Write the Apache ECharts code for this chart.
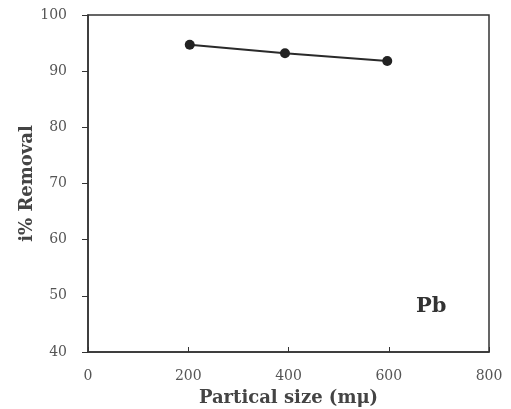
<!DOCTYPE html>
<html><head><meta charset="utf-8">
<script src="https://cdn.jsdelivr.net/npm/echarts@6/dist/echarts.min.js"></script>
<style>html,body{margin:0;padding:0;background:#fff}#c{width:511px;height:409px}</style>
</head><body><div id="c"></div>
<script>
const particleSize = [203, 393, 597];
const removal = [94.7, 93.2, 91.8];
const xTicks = [0, 200, 400, 600, 800];
const yTicks = [40, 50, 60, 70, 80, 90, 100];
const xTitle = 'Partical size (mμ)';
const yTitle = 'i% Removal';
const seriesLabel = 'Pb';

const chart = echarts.init(document.getElementById('c'));
const serif = '"DejaVu Serif","Liberation Serif",serif';
chart.setOption({
  animation: false,
  grid: {left: 88, right: 22, top: 15, bottom: 57, show: true, borderColor: '#333', borderWidth: 1.5, backgroundColor: '#fff', outerBoundsMode: 'none', containLabel: false},
  xAxis: {
    type: 'value', min: xTicks[0], max: xTicks[xTicks.length-1], interval: 200,
    axisLine: {lineStyle: {color: '#333', width: 1.5}},
    axisTick: {inside: true, length: 5, lineStyle: {color: '#333'}},
    splitLine: {show: false},
    axisLabel: {color: '#555', fontFamily: serif, fontSize: 14, margin: 17},
    name: xTitle, nameLocation: 'middle', nameGap: 37, nameMoveOverlap: false,
    nameTextStyle: {color: '#444', fontFamily: serif, fontSize: 18, fontWeight: 'bold'}
  },
  yAxis: {
    type: 'value', min: yTicks[0], max: yTicks[yTicks.length-1], interval: 10,
    axisLine: {lineStyle: {color: '#333', width: 1.5}},
    axisTick: {inside: false, length: 6, lineStyle: {color: '#333'}},
    splitLine: {show: false},
    axisLabel: {color: '#555', fontFamily: serif, fontSize: 14, margin: 21},
    name: yTitle, nameLocation: 'middle', nameGap: 52, nameRotate: 90, nameMoveOverlap: false,
    nameTextStyle: {color: '#444', fontFamily: serif, fontSize: 18, fontWeight: 'bold'}
  },
  graphic: [{type: 'text', left: 416, top: 296, style: {text: seriesLabel, fill: '#333', font: 'bold 21px ' + serif}}],
  series: [{
    type: 'line',
    data: particleSize.map((x, i) => [x, removal[i]]),
    symbol: 'circle', symbolSize: 10,
    lineStyle: {color: '#2a2a2a', width: 2},
    itemStyle: {color: '#222'}
  }]
});
</script></body></html>
